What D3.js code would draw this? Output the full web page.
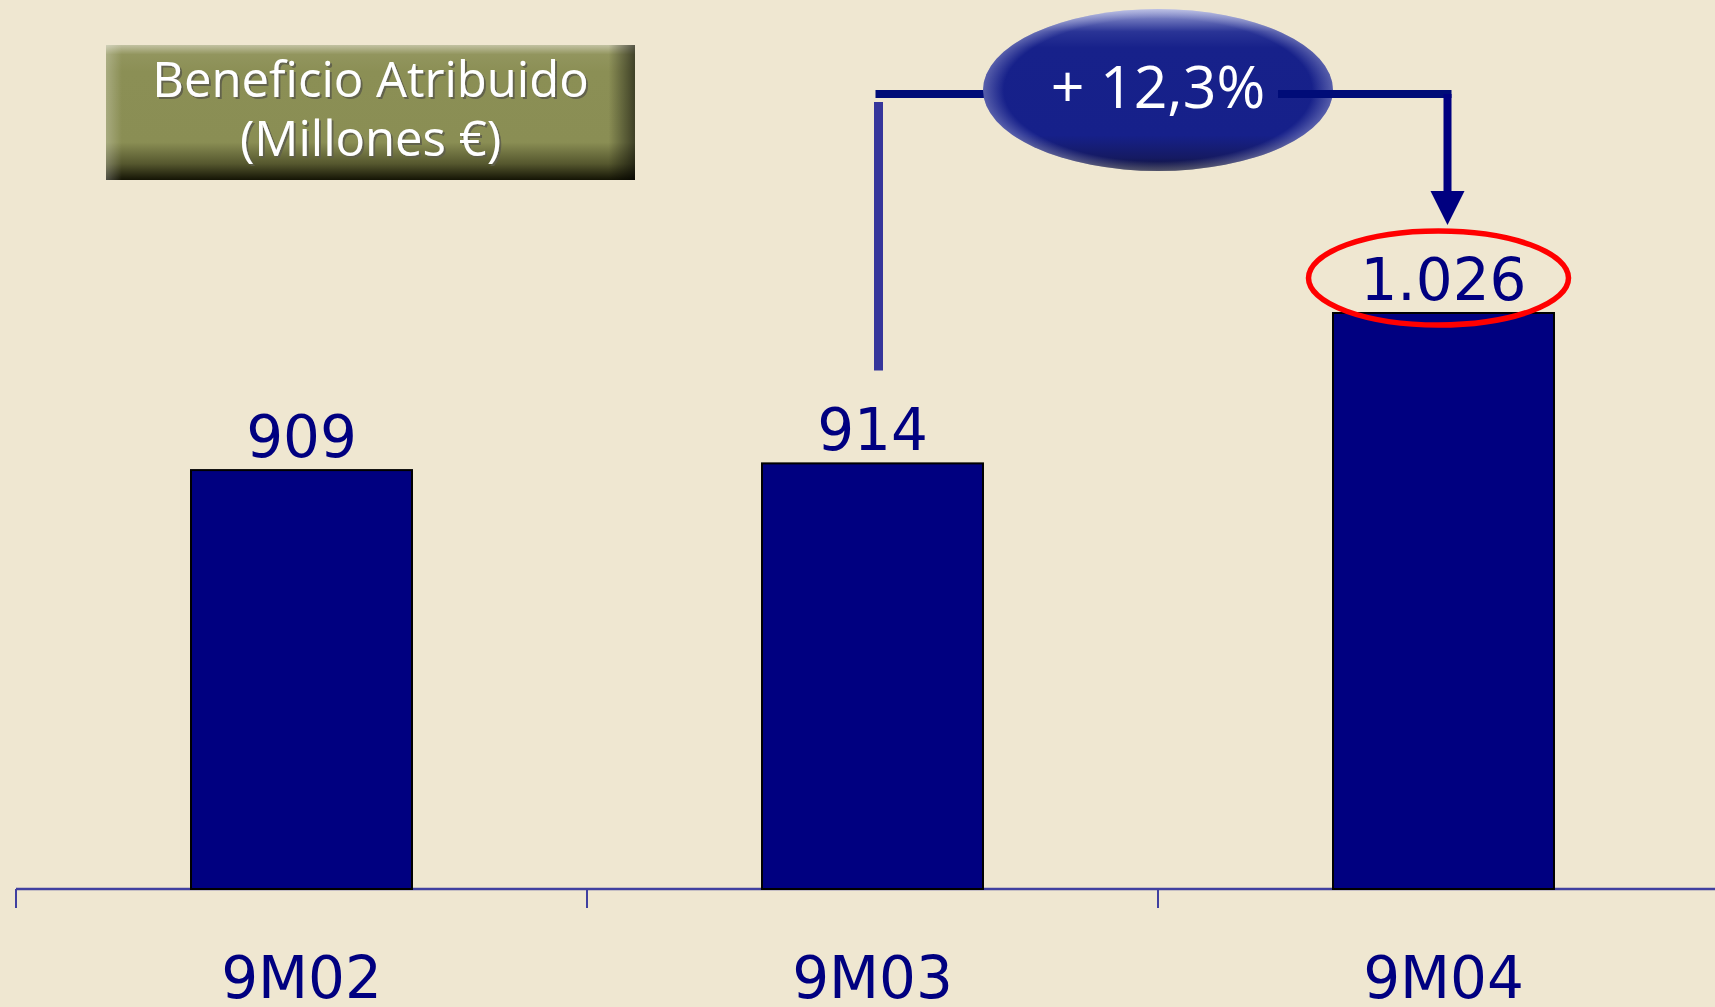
<!DOCTYPE html>
<html>
<head>
<meta charset="utf-8">
<script src="https://cdn.jsdelivr.net/npm/d3@7"></script>
<style>
  html, body { margin: 0; padding: 0; background: #efe7d1; overflow: hidden; }
</style>
</head>
<body>
<div id="chart"></div>
<script>
// datos del gráfico
const categories = ["9M02", "9M03", "9M04"];
const values = [909, 914, 1026];
const valueLabels = ["909", "914", "1.026"];
const titleLines = ["Beneficio Atribuido", "(Millones €)"];
const growthLabel = "+ 12,3%";

const width = 1715;
const height = 1007;
const axisY = 889;           // línea base del eje
const navy = "#000080";

const svg = d3.select("#chart")
    .append("svg")
    .attr("width", width)
    .attr("height", height)
    .style("background-color", "#efe7d1");

const defs = svg.append("defs");

// sombra del texto del título
defs.append("filter")
    .attr("id", "txtShadow")
    .attr("x", "-5%").attr("y", "-20%").attr("width", "110%").attr("height", "140%")
    .append("feDropShadow")
    .attr("dx", 2).attr("dy", 2).attr("stdDeviation", 0.6)
    .attr("flood-color", "#5e5e4c").attr("flood-opacity", 0.9);

// gradiente del recuadro del título
const boxGrad = defs.append("linearGradient")
    .attr("id", "boxGrad").attr("x1", 0).attr("y1", 0).attr("x2", 0).attr("y2", 1);
[["0%", "#c2c2a2"], ["7%", "#92955e"], ["20%", "#8b8f55"], ["72%", "#8a8e54"],
 ["88%", "#55572e"], ["100%", "#141405"]].forEach(s =>
    boxGrad.append("stop").attr("offset", s[0]).attr("stop-color", s[1]));

const boxSide = defs.append("linearGradient")
    .attr("id", "boxSide").attr("x1", 0).attr("y1", 0).attr("x2", 1).attr("y2", 0);
[["0%", "#ffffff", 0.25], ["3%", "#ffffff", 0], ["95%", "#000000", 0], ["100%", "#000000", 0.55]]
    .forEach(s => boxSide.append("stop").attr("offset", s[0])
        .attr("stop-color", s[1]).attr("stop-opacity", s[2]));

// gradiente de la elipse azul
const ovalGrad = defs.append("linearGradient")
    .attr("id", "ovalGrad").attr("x1", 0).attr("y1", 0).attr("x2", 0).attr("y2", 1);
[["0%", "#a2a8da"], ["14%", "#2a3496"], ["24%", "#17218a"], ["78%", "#16208a"],
 ["92%", "#151a62"], ["100%", "#0e1030"]].forEach(s =>
    ovalGrad.append("stop").attr("offset", s[0]).attr("stop-color", s[1]));

const ovalSide = defs.append("radialGradient")
    .attr("id", "ovalSide").attr("cx", "50%").attr("cy", "50%").attr("r", "50%");
[["0%", "#ffffff", 0], ["88%", "#ffffff", 0], ["100%", "#ffffff", 0.28]]
    .forEach(s => ovalSide.append("stop").attr("offset", s[0])
        .attr("stop-color", s[1]).attr("stop-opacity", s[2]));

// escalas
const x = d3.scaleBand()
    .domain(categories)
    .range([16, 16 + 571 * categories.length])
    .paddingInner(0.613)
    .paddingOuter(0.3065);

const yDomainMin = 597;   // el eje no arranca en cero en el original
const y = d3.scaleLinear()
    .domain([yDomainMin, d3.max(values)])
    .range([axisY, 313]);

const cx = c => x(c) + x.bandwidth() / 2;

// recuadro del título
const box = { x: 106, y: 45, w: 529, h: 135 };
svg.append("rect")
    .attr("x", box.x).attr("y", box.y).attr("width", box.w).attr("height", box.h)
    .attr("fill", "url(#boxGrad)");
svg.append("rect")
    .attr("x", box.x).attr("y", box.y).attr("width", box.w).attr("height", box.h)
    .attr("fill", "url(#boxSide)");

svg.append("g")
    .attr("filter", "url(#txtShadow)")
    .selectAll("text")
    .data(titleLines)
    .enter()
    .append("text")
    .attr("x", box.x + box.w / 2)
    .attr("y", (d, i) => 97 + i * 59)
    .attr("text-anchor", "middle")
    .style("font-family", "'Open Sans', sans-serif")
    .style("font-size", "49px")
    .style("fill", "#ffffff")
    .text(d => d);

// eje
const axisG = svg.append("g");
axisG.append("line")
    .attr("x1", 16).attr("x2", width)
    .attr("y1", axisY).attr("y2", axisY)
    .attr("stroke", "#4040a0").attr("stroke-width", 2.5);

axisG.selectAll(".tick-b")
    .data(categories)
    .enter()
    .append("line")
    .attr("class", "tick-b")
    .attr("x1", d => x(d) - (x.step() - x.bandwidth()) / 2)
    .attr("x2", d => x(d) - (x.step() - x.bandwidth()) / 2)
    .attr("y1", axisY).attr("y2", axisY + 19)
    .attr("stroke", "#4040a0").attr("stroke-width", 2);

const labelAxis = d3.axisBottom(x).tickSize(0).tickPadding(0);
const lab = svg.append("g")
    .attr("transform", `translate(0,${axisY})`)
    .call(labelAxis);
lab.select(".domain").remove();
lab.selectAll("text")
    .attr("y", 109)
    .attr("dy", 0)
    .style("font-family", "'DejaVu Sans', sans-serif")
    .style("font-size", "58px")
    .style("fill", navy);

// barras
svg.append("g")
    .selectAll("rect")
    .data(values)
    .enter()
    .append("rect")
    .attr("x", (d, i) => x(categories[i]))
    .attr("y", d => y(d))
    .attr("width", x.bandwidth())
    .attr("height", d => axisY - y(d))
    .attr("fill", navy)
    .attr("stroke", "#000000")
    .attr("stroke-width", 2);

// valores
svg.append("g")
    .selectAll("text")
    .data(values)
    .enter()
    .append("text")
    .attr("x", (d, i) => cx(categories[i]))
    .attr("y", d => y(d) - 13)
    .attr("text-anchor", "middle")
    .style("font-family", "'DejaVu Sans', sans-serif")
    .style("font-size", "58px")
    .style("fill", navy)
    .text((d, i) => valueLabels[i]);

// flecha de crecimiento 9M03 -> 9M04
const from = categories[1], to = categories[2];
const lineY = 94;
const leftX = cx(from) + 6;
const rightX = cx(to) + 4;
const ovalCx = (cx(from) + cx(to)) / 2;

svg.append("line")
    .attr("x1", leftX).attr("x2", leftX)
    .attr("y1", 102).attr("y2", y(values[1]) - 93)
    .attr("stroke", "#36369b").attr("stroke-width", 9);

svg.append("line")
    .attr("x1", leftX - 3).attr("x2", ovalCx)
    .attr("y1", lineY).attr("y2", lineY)
    .attr("stroke", "#000c78").attr("stroke-width", 8);

svg.append("ellipse")
    .attr("cx", ovalCx).attr("cy", 90).attr("rx", 175).attr("ry", 81)
    .attr("fill", "url(#ovalGrad)");
svg.append("ellipse")
    .attr("cx", ovalCx).attr("cy", 90).attr("rx", 175).attr("ry", 81)
    .attr("fill", "url(#ovalSide)");

svg.append("text")
    .attr("x", ovalCx).attr("y", 108)
    .attr("text-anchor", "middle")
    .style("font-family", "'Open Sans', sans-serif")
    .style("font-size", "59px")
    .style("font-weight", 500)
    .style("fill", "#ffffff")
    .text(growthLabel);

svg.append("line")
    .attr("x1", ovalCx + 120).attr("x2", rightX + 4)
    .attr("y1", lineY).attr("y2", lineY)
    .attr("stroke", "#000c78").attr("stroke-width", 8);

svg.append("line")
    .attr("x1", rightX).attr("x2", rightX)
    .attr("y1", lineY).attr("y2", 195)
    .attr("stroke", navy).attr("stroke-width", 8);

svg.append("path")
    .attr("d", `M${rightX - 17},191 L${rightX + 17},191 L${rightX},225 Z`)
    .attr("fill", navy);

// elipse roja alrededor del último valor
svg.append("ellipse")
    .attr("cx", cx(to) - 5).attr("cy", y(values[2]) - 35)
    .attr("rx", 130).attr("ry", 47)
    .attr("fill", "none")
    .attr("stroke", "#ff0000")
    .attr("stroke-width", 5.5);
</script>
</body>
</html>
